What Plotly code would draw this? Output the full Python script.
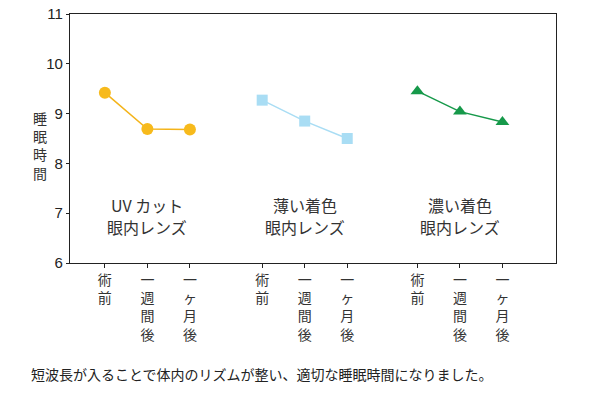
import plotly.graph_objects as go

group_line1 = ["UV カット", "薄い着色", "濃い着色"]
group_line2 = ["眼内レンズ", "眼内レンズ", "眼内レンズ"]
tick_labels = ["術<br>前", "一<br>週<br>間<br>後", "一<br>ヶ<br>月<br>後"]
y_title = "睡<br>眠<br>時<br>間"
x_uv = [0, 1, 2]
x_light = [3.7, 4.7, 5.7]
x_dark = [7.35, 8.35, 9.35]
uv_vals = [9.42, 8.69, 8.68]
light_vals = [9.27, 8.85, 8.50]
dark_vals = [9.45, 9.04, 8.83]
y_ticks = [6, 7, 8, 9, 10, 11]
caption = "短波長が入ることで体内のリズムが整い、適切な睡眠時間になりました。"

cjk = "Noto Sans CJK JP"
fig = go.Figure()
fig.add_trace(go.Scatter(x=x_uv, y=uv_vals, mode="lines+markers",
                         line=dict(color="#F4B41A", width=1.5),
                         marker=dict(symbol="circle", size=12, color="#F7BA1C")))
fig.add_trace(go.Scatter(x=x_light, y=light_vals, mode="lines+markers",
                         line=dict(color="#A9DDF4", width=1.5),
                         marker=dict(symbol="square", size=11, color="#A9DDF4")))
fig.add_trace(go.Scatter(x=x_dark, y=dark_vals, mode="lines+markers",
                         line=dict(color="#16994A", width=1.5),
                         marker=dict(symbol="triangle-up", size=12, color="#16994A")))

xs_all = x_uv + x_light + x_dark
fig.update_xaxes(range=[-0.82, 10.61], tickmode="array", tickvals=xs_all,
                 ticktext=tick_labels * 3, ticks="outside", ticklen=4,
                 tickcolor="#222", showline=True, linecolor="#222", linewidth=1.2,
                 mirror=True, showgrid=False, zeroline=False, automargin=False,
                 tickfont=dict(family=cjk, size=14, color="#333"))
fig.update_yaxes(range=[6, 11], tickmode="array", tickvals=y_ticks,
                 ticks="outside", ticklen=3, tickcolor="#222",
                 showline=True, linecolor="#222", linewidth=1.2, mirror=True,
                 showgrid=False, zeroline=False, automargin=False,
                 tickfont=dict(family="Liberation Sans, Arial", size=15, color="#222"))

centers = [x_uv[1], x_light[1], x_dark[1]]
for cx, l1, l2 in zip(centers, group_line1, group_line2):
    fig.add_annotation(x=cx, y=7.165, text=l1, showarrow=False, yanchor="middle",
                       font=dict(family=cjk, size=16, color="#333"))
    fig.add_annotation(x=cx, y=6.723, text=l2, showarrow=False, yanchor="middle",
                       font=dict(family=cjk, size=16, color="#333"))

fig.add_annotation(xref="paper", yref="paper", x=-0.061, y=0.47,
                   text=y_title, showarrow=False, xanchor="center", yanchor="middle",
                   font=dict(family=cjk, size=14, color="#333"))
fig.add_annotation(xref="paper", yref="paper", x=0.396, y=-0.447, text=caption,
                   showarrow=False, xanchor="center", yanchor="middle",
                   font=dict(family=cjk, size=14, color="#222"))

fig.update_layout(width=600, height=395, margin=dict(l=70, r=44, t=14, b=132),
                  showlegend=False, plot_bgcolor="white", paper_bgcolor="white")
fig.write_html("out.html", config={"displayModeBar": False},
               post_script="document.body.style.margin='0';")
